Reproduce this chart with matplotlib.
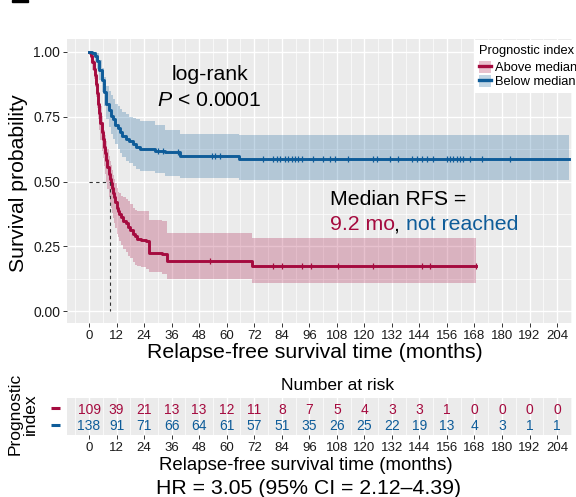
import numpy as np
import matplotlib
matplotlib.use('Agg')
import matplotlib.pyplot as plt
from matplotlib.patches import Patch, Rectangle
from matplotlib.lines import Line2D
from matplotlib import transforms

plt.rcParams['font.family'] = ['Liberation Sans', 'DejaVu Sans']
plt.rcParams['mathtext.fontset'] = 'custom'
plt.rcParams['mathtext.rm'] = 'Liberation Sans'
plt.rcParams['mathtext.it'] = 'Liberation Sans:italic'

RED = '#A50B3F'
BLUE = '#0E5C99'
BG = '#EBEBEB'

# Kaplan-Meier curves (months, survival, 95% CI)
red_t = [0, 0.5, 1, 1.5, 2, 2.5, 3, 3.5, 4, 4.5, 5, 5.5, 6, 6.5, 7, 7.5, 8, 8.5, 9, 9.5,
         10, 10.5, 11, 11.5, 12, 12.5, 13, 14, 15, 16, 17, 18, 19, 20, 21, 22.5, 25, 26,
         32, 34, 71, 168.5]
red_s = [1.0, 0.995, 0.985, 0.96, 0.935, 0.91, 0.875, 0.84, 0.80, 0.765, 0.725, 0.69,
         0.665, 0.635, 0.61, 0.585, 0.555, 0.53, 0.51, 0.495, 0.475, 0.455, 0.44, 0.42,
         0.40, 0.385, 0.375, 0.365, 0.35, 0.34, 0.325, 0.315, 0.30, 0.29, 0.28, 0.275,
         0.27, 0.226, 0.22, 0.193, 0.174, 0.174]
red_hi = [1.0, 1.0, 1.0, 0.99, 0.97, 0.95, 0.92, 0.89, 0.855, 0.825, 0.79, 0.755, 0.73,
          0.70, 0.68, 0.655, 0.625, 0.60, 0.58, 0.565, 0.545, 0.525, 0.51, 0.495, 0.475,
          0.46, 0.455, 0.445, 0.44, 0.435, 0.425, 0.415, 0.40, 0.39, 0.385, 0.385, 0.385,
          0.354, 0.35, 0.303, 0.283, 0.283]
red_lo = [1.0, 0.985, 0.965, 0.93, 0.895, 0.865, 0.825, 0.785, 0.74, 0.70, 0.66, 0.62,
          0.59, 0.56, 0.53, 0.50, 0.47, 0.44, 0.42, 0.40, 0.38, 0.36, 0.34, 0.32, 0.30,
          0.285, 0.27, 0.255, 0.24, 0.23, 0.215, 0.205, 0.19, 0.18, 0.175, 0.17, 0.165,
          0.15, 0.145, 0.123, 0.11, 0.11]
red_cens = [52.7, 80, 84, 93, 96.8, 108.7, 123.7, 145, 148.6, 168.5]

blue_t = [0, 1.5, 2.5, 3.5, 4.5, 5.5, 6.5, 7.5, 8.5, 9.5, 10.5, 11.5, 12.5, 13.5, 14.5,
          16, 17.5, 19, 20.5, 22, 28.8, 33.1, 39.7, 65.5, 209]
blue_s = [1.0, 0.995, 0.985, 0.965, 0.93, 0.89, 0.845, 0.80, 0.775, 0.755, 0.74, 0.72,
          0.705, 0.69, 0.675, 0.665, 0.655, 0.645, 0.632, 0.626, 0.62, 0.614, 0.60,
          0.588, 0.588]
blue_hi = [1.0, 1.0, 1.0, 0.995, 0.97, 0.94, 0.905, 0.87, 0.85, 0.835, 0.82, 0.80, 0.79,
           0.78, 0.77, 0.76, 0.75, 0.745, 0.74, 0.735, 0.72, 0.70, 0.685, 0.68, 0.68]
blue_lo = [1.0, 0.985, 0.965, 0.935, 0.89, 0.845, 0.79, 0.74, 0.71, 0.685, 0.665, 0.645,
           0.625, 0.61, 0.595, 0.58, 0.57, 0.56, 0.55, 0.54, 0.535, 0.52, 0.515, 0.508,
           0.508]
blue_cens = [30.2, 32.4, 38.9, 53.5, 54.9, 57.1, 76, 80.3, 81.8, 83.3, 85.4, 86.9, 88.4,
             89.8, 91.2, 92.7, 97.8, 102.1, 105, 107.2, 113, 123.9, 125.4, 131.2, 134.8,
             140.7, 142.8, 145, 147.1, 150, 155.9, 157.3, 158.8, 160.3, 161.7, 163.2,
             166.1, 171.2, 183.5]

median_red = 9.2

# number at risk table
months = [0, 12, 24, 36, 48, 60, 72, 84, 96, 108, 120, 132, 144, 156, 168, 180, 192, 204]
red_risk = [109, 39, 21, 13, 13, 12, 11, 8, 7, 5, 4, 3, 3, 1, 0, 0, 0, 0]
blue_risk = [138, 91, 71, 66, 64, 61, 57, 51, 35, 26, 25, 22, 19, 13, 4, 3, 1, 1]

groups = ['Above median', 'Below median']
y_ticks = [0, 0.25, 0.5, 0.75, 1.0]
y_labels = ['0.00', '0.25', '0.50', '0.75', '1.00']

W, H = 576, 497
fig = plt.figure(figsize=(W / 100, H / 100), dpi=100)


def fx(px):
    return px / W


def fy(py):
    return 1 - py / H


def style_axes(a):
    a.set_facecolor(BG)
    for sp in a.spines.values():
        sp.set_visible(False)
    a.set_axisbelow(True)
    a.set_xlim(-9.6, 210.5)
    a.set_xticks(months)
    a.set_xticks(np.arange(-6, 211, 12), minor=True)
    a.grid(which='major', color='white', lw=1.0)
    a.grid(which='minor', color='white', lw=0.5)
    a.tick_params(which='major', length=2.75, width=0.7, color='#333333',
                  labelsize=9.5, labelcolor='#1a1a1a', pad=2.2)
    a.tick_params(which='minor', length=0)


# main survival panel
ax = fig.add_axes([fx(67), fy(323), fx(572) - fx(67), fy(39) - fy(323)])
style_axes(ax)
ax.set_ylim(-0.045, 1.05)
ax.set_yticks(y_ticks)
ax.set_yticklabels(y_labels, fontsize=10)
ax.set_yticks([0.125, 0.375, 0.625, 0.875], minor=True)

for t, s, lo, hi, cens, col in [(red_t, red_s, red_lo, red_hi, red_cens, RED),
                                 (blue_t, blue_s, blue_lo, blue_hi, blue_cens, BLUE)]:
    t = np.array(t)
    s = np.array(s)
    ax.fill_between(t, lo, hi, step='post', color=col, alpha=0.25, lw=0)
    ax.step(t, s, where='post', color=col, lw=2.1)
    idx = np.searchsorted(t, cens, side='right') - 1
    ax.plot(cens, s[idx], ls='none', marker='|', ms=5, mew=0.9, color=col)

ax.plot([0, median_red], [0.5, 0.5], ls=(0, (3, 3)), color='#333333', lw=0.8)
ax.plot([median_red, median_red], [0.5, 0], ls=(0, (3, 3)), color='#333333', lw=0.8)

BIG = 15.3
fig.text(fx(18.5), fy(183), 'Survival probability', rotation=90, ha='center',
         va='center', fontsize=BIG)
fig.text(fx(315), fy(353), 'Relapse-free survival time (months)', ha='center',
         va='center', fontsize=BIG)
fig.text(fx(210), fy(74), 'log-rank', ha='center', va='center', fontsize=BIG)
fig.text(fx(209), fy(100), r'$\mathit{P}$ < 0.0001', ha='center', va='center',
         fontsize=BIG)
fig.text(fx(330), fy(199), 'Median RFS =', ha='left', va='center', fontsize=BIG)
t1 = fig.text(fx(329.5), fy(225), '9.2 mo', ha='left', va='center', fontsize=BIG,
              color=RED)
t2 = ax.annotate(', ', xy=(1, 0), xycoords=t1, ha='left', va='bottom', fontsize=BIG)
ax.annotate('not reached', xy=(1, 0), xycoords=t2, ha='left', va='bottom',
            fontsize=BIG, color=BLUE)

# legend, tucked against the right edge
handles = [(Patch(facecolor=RED, alpha=0.25, lw=0), Line2D([], [], color=RED, lw=2.4)),
           (Patch(facecolor=BLUE, alpha=0.25, lw=0), Line2D([], [], color=BLUE, lw=2.4))]
leg = ax.legend(handles, groups, title='Prognostic index', loc='upper left',
                bbox_to_anchor=(fx(474), fy(40)), bbox_transform=fig.transFigure,
                frameon=True, fancybox=False, framealpha=1, facecolor='white',
                edgecolor='none', fontsize=9.3, title_fontsize=9.3, borderpad=0.35,
                handlelength=0.95, handleheight=1.05, handletextpad=0.3,
                labelspacing=0.05, borderaxespad=0)
leg._legend_box.align = 'left'
leg._legend_box.sep = 3

# number at risk panel
rax = fig.add_axes([fx(67), fy(435), fx(572) - fx(67), fy(398) - fy(435)])
style_axes(rax)
rax.set_ylim(1.6, -0.6)
rax.set_yticks([0, 1])
rax.set_yticklabels(['', ''])
rax.tick_params(axis='y', length=0)
rax.grid(axis='y', which='both', visible=False)
for row, (risk, col) in enumerate([(red_risk, RED), (blue_risk, BLUE)]):
    for m, n in zip(months, risk):
        rax.text(m, row, str(n), ha='center', va='center_baseline', fontsize=10,
                 color=col)
    tr = transforms.blended_transform_factory(fig.transFigure, rax.transData)
    rax.plot([fx(51), fx(60)], [row, row], color=col, lw=2.2, transform=tr,
             clip_on=False, solid_capstyle='butt')

fig.text(fx(337.5), fy(385), 'Number at risk', ha='center', va='center', fontsize=12.5)
fig.text(fx(23), fy(414), 'Prognostic\nindex', rotation=90, ha='center', va='center',
         fontsize=12.5, linespacing=1.0)
fig.text(fx(306), fy(465), 'Relapse-free survival time (months)', ha='center',
         va='center', fontsize=13.4)
fig.text(fx(309), fy(488), 'HR = 3.05 (95% CI = 2.12\u20134.39)', ha='center',
         va='center', fontsize=BIG)

# cropped panel letter at the top edge
fig.patches.append(Rectangle((fx(12), fy(2)), fx(28) - fx(12), 2 / H, color='black',
                             transform=fig.transFigure, figure=fig))

fig.savefig('out.png', dpi=100)
